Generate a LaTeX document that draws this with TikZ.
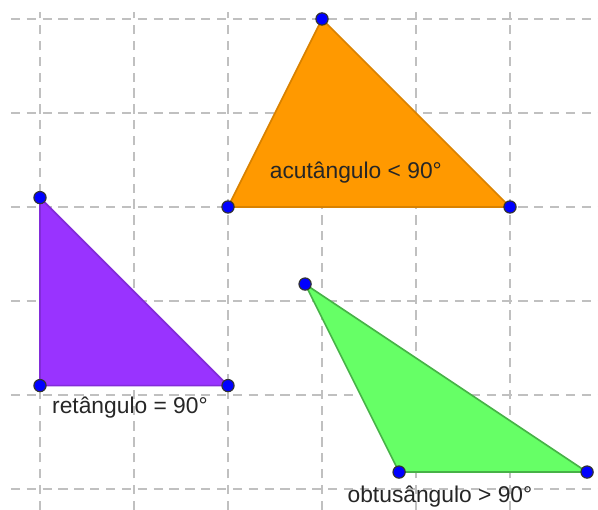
\documentclass[tikz,border=0pt]{standalone}
\usepackage{fontspec}
\setmainfont{Liberation Sans}
\usepackage{tikz}
\usetikzlibrary{positioning}

\definecolor{geoorange}{RGB}{255,153,0}
\definecolor{geopurple}{RGB}{153,51,255}
\definecolor{geogreen}{RGB}{102,255,102}
\definecolor{geogrid}{RGB}{192,192,192}
\definecolor{geoblue}{RGB}{0,0,255}

\begin{document}
\begin{tikzpicture}[
  gridline/.style={draw=geogrid,line width=0.45pt,dash pattern=on 2.8pt off 2pt},
  tri/.style={line width=0.5pt,line join=round},
  pt/.style={circle,fill=geoblue,draw=black!80,line width=0.35pt,inner sep=0pt,minimum size=3.7pt},
  lbl/.style={font=\fontsize{6.9}{8}\selectfont,text=black!85}
]
\useasboundingbox (-0.4255,-0.2234) rectangle (5.936,5.202);
% grid
\foreach \x in {0,...,5}
  \draw[gridline] (\x,-0.2234) -- (\x,5.07);
\foreach \y in {0,...,5}
  \draw[gridline] (-0.31,\y) -- (5.936,\y);
% vertices
\coordinate (A1) at (2,3);
\coordinate (B1) at (5,3);
\coordinate (C1) at (3,5);
\coordinate (A2) at (0,3.1);
\coordinate (B2) at (0,1.1);
\coordinate (C2) at (2,1.1);
\coordinate (A3) at (2.82,2.18);
\coordinate (B3) at (3.82,0.18);
\coordinate (C3) at (5.82,0.18);
% triangles
\filldraw[tri,fill=geoorange,draw=geoorange!85!black] (A1) -- (B1) -- (C1) -- cycle;
\filldraw[tri,fill=geopurple,draw=geopurple!85!black] (A2) -- (B2) -- (C2) -- cycle;
\filldraw[tri,fill=geogreen,draw=geogreen!70!black] (A3) -- (B3) -- (C3) -- cycle;
% points
\foreach \p in {A1,B1,C1,A2,B2,C2,A3,B3,C3}
  \node[pt] (n\p) at (\p) {};
% labels
\node[lbl] (acu) at (3.36,3.37) {acutângulo < 90°};
\node[lbl] (ret) at (0.957,0.862) {retângulo = 90°};
\node[lbl] (obt) at (4.255,-0.085) {obtusângulo > 90°};
\end{tikzpicture}
\end{document}
